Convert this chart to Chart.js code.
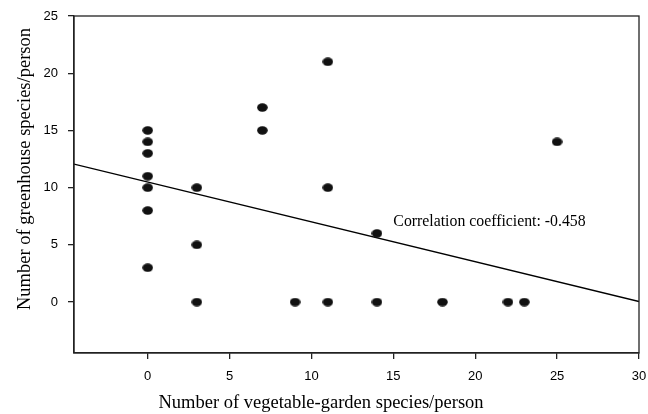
<!DOCTYPE html>
<html>
<head>
<meta charset="utf-8">
<script src="https://cdn.jsdelivr.net/npm/chart.js@4/dist/chart.umd.min.js"></script>
<style>
  html, body { margin: 0; padding: 0; background: #fff; }
  #wrap { width: 648px; height: 414px; }
</style>
</head>
<body>
<div id="wrap"><canvas id="myChart" width="648" height="414"></canvas></div>
<script>
// species counts per person
var vegX = [0, 0, 0, 0, 0, 0, 0, 3, 3, 3, 7, 7, 9, 11, 11, 11, 14, 14, 18, 22, 23, 25];
var greenY = [15, 14, 13, 11, 10, 8, 3, 10, 5, 0, 17, 15, 0, 21, 10, 0, 6, 0, 0, 0, 0, 14];

// regression line end points
var trendX = [-4.5, 30];
var trendY = [12.06, 0.05];

var xTicks = [0, 5, 10, 15, 20, 25, 30];
var yTicks = [0, 5, 10, 15, 20, 25];

var xTitle = 'Number of vegetable-garden species/person';
var yTitle = 'Number of greenhouse species/person';
var noteText = 'Correlation coefficient: -0.458';

// oval dot like the original
var dot = document.createElement('canvas');
dot.width = 11; dot.height = 9;
var dctx = dot.getContext('2d');
dctx.fillStyle = '#111';
dctx.beginPath();
dctx.ellipse(5.5, 4.5, 5.3, 4.2, 0, 0, Math.PI * 2);
dctx.fill();

var points = [];
for (var i = 0; i < vegX.length; i++) {
    points.push({x: vegX[i], y: greenY[i]});
}
var trend = [];
for (var j = 0; j < trendX.length; j++) {
    trend.push({x: trendX[j], y: trendY[j]});
}

var frame = {
    id: 'frame',
    afterDraw: function(chart) {
        var c = chart.ctx, a = chart.chartArea;
        c.save();
        c.strokeStyle = '#222';
        c.lineWidth = 1.3;
        c.strokeRect(a.left, a.top, a.right - a.left, a.bottom - a.top);

        c.fillStyle = '#000';
        c.font = '18.5px "Liberation Serif"';
        c.textAlign = 'center';
        c.textBaseline = 'alphabetic';
        c.fillText(xTitle, 321, 408);

        c.translate(30, 169);
        c.rotate(-Math.PI / 2);
        c.fillText(yTitle, 0, 0);
        c.restore();

        c.save();
        c.fillStyle = '#000';
        c.font = '15.8px "Liberation Serif"';
        c.textAlign = 'left';
        c.textBaseline = 'alphabetic';
        c.fillText(noteText, chart.scales.x.getPixelForValue(15), 226);
        c.restore();
    }
};

var ctx = document.getElementById('myChart').getContext('2d');
var myChart = new Chart(ctx, {
    type: 'scatter',
    data: {
        datasets: [{
            label: 'people',
            data: points,
            pointStyle: dot,
            pointRadius: 5,
            pointHoverRadius: 5
        }, {
            type: 'line',
            label: 'fit',
            data: trend,
            borderColor: '#000',
            borderWidth: 1.3,
            pointRadius: 0,
            fill: false
        }]
    },
    options: {
        responsive: false,
        animation: false,
        layout: {padding: {top: 16, right: 9, left: 0, bottom: 0}},
        plugins: {legend: {display: false}, tooltip: {enabled: false}},
        scales: {
            x: {
                type: 'linear',
                min: -4.5,
                max: 30,
                afterFit: function(s) {
                    s.height = 61;
                    s.paddingLeft = 0;
                    s.paddingRight = 0;
                },
                afterBuildTicks: function(s) {
                    s.ticks = xTicks.map(function(v) { return {value: v}; });
                },
                grid: {drawOnChartArea: false, drawTicks: true, tickLength: 6, color: '#222', lineWidth: 1.3},
                border: {color: '#222', width: 1.3},
                ticks: {padding: 10, color: '#000', font: {family: '"Liberation Sans"', size: 13}, maxRotation: 0}
            },
            y: {
                type: 'linear',
                min: -4.45,
                max: 25,
                afterFit: function(s) {
                    s.width = 74;
                    s.paddingTop = 0;
                    s.paddingBottom = 0;
                },
                afterBuildTicks: function(s) {
                    s.ticks = yTicks.map(function(v) { return {value: v}; });
                },
                grid: {drawOnChartArea: false, drawTicks: true, tickLength: 6, color: '#222', lineWidth: 1.3},
                border: {color: '#222', width: 1.3},
                ticks: {padding: 10, color: '#000', font: {family: '"Liberation Sans"', size: 13}}
            }
        }
    },
    plugins: [frame]
});
</script>
</body>
</html>
